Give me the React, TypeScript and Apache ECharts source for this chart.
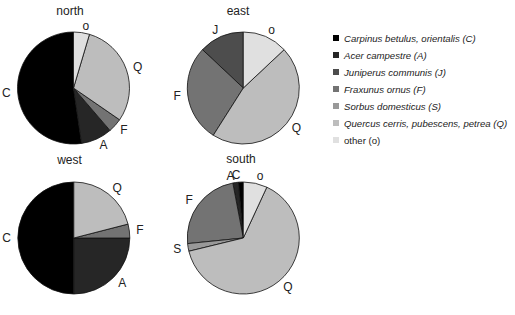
import React, { useEffect, useRef } from "react";
import * as echarts from "echarts";

const speciesNames = [
  "Carpinus betulus, orientalis (C)",
  "Acer campestre (A)",
  "Juniperus communis (J)",
  "Fraxunus ornus (F)",
  "Sorbus domesticus (S)",
  "Quercus cerris, pubescens, petrea (Q)",
  "other (o)",
];
const speciesCodes = ["C", "A", "J", "F", "S", "Q", "o"];
const speciesColors = ["#000000", "#262626", "#4d4d4d", "#737373", "#999999", "#bdbdbd", "#e0e0e0"];

const regionNames = ["north", "east", "west", "south"];
const northValues = [0.523, 0.09, 0, 0.041, 0, 0.3, 0.046];
const eastValues = [0, 0, 0.13, 0.28, 0, 0.46, 0.13];
const westValues = [0.5, 0.25, 0, 0.04, 0, 0.21, 0];
const southValues = [0.014, 0.016, 0, 0.236, 0.022, 0.643, 0.069];
const regionValues = [northValues, eastValues, westValues, southValues];

// layout (pixels)
const pieCenters = [
  [73.5, 88],
  [243.3, 88],
  [73.8, 238],
  [243.3, 238],
];
const titlePos = [
  [70, 5],
  [238, 5],
  [69.5, 154],
  [241, 153],
];
const pieRadius = 56;
const FONT = "Liberation Sans, Arial, sans-serif";

export default function App() {
  const ref = useRef<HTMLDivElement>(null);
  useEffect(() => {
    if (!ref.current) return;
    const chart = echarts.init(ref.current, undefined, { renderer: "svg" });
    const series = regionNames.map((region, ri) => ({
      type: "pie",
      name: region,
      center: pieCenters[ri],
      radius: pieRadius,
      startAngle: 90,
      clockwise: false,
      avoidLabelOverlap: false,
      minShowLabelAngle: 0,
      labelLayout: { hideOverlap: false },
      silent: true,
      itemStyle: { borderColor: "#111", borderWidth: 0.8 },
      label: {
        show: true,
        position: "outside",
        fontSize: 12,
        fontFamily: FONT,
        color: "#222",
        distanceToLabelLine: 0,
        formatter: (p: any) => speciesCodes[speciesNames.indexOf(p.name)],
      },
      labelLine: { show: false, length: 7, length2: 0 },
      emphasis: { disabled: true },
      data: speciesNames
        .map((name, i) => ({
          name,
          value: regionValues[ri][i],
          itemStyle: { color: speciesColors[i] },
        }))
        .filter((d) => d.value > 0),
    }));
    chart.setOption({
      animation: false,
      title: regionNames.map((region, ri) => ({
        text: region,
        left: titlePos[ri][0],
        top: titlePos[ri][1],
        textAlign: "center",
        padding: 0,
        textStyle: { fontSize: 12, fontWeight: "normal", fontFamily: FONT, color: "#222" },
      })),
      legend: {
        orient: "vertical",
        left: 333,
        top: 32,
        icon: "rect",
        itemWidth: 6,
        itemHeight: 6,
        itemGap: 5,
        selectedMode: false,
        padding: 0,
        itemStyle: { borderWidth: 0 },
        textStyle: { fontSize: 9.6, fontFamily: FONT, color: "#222", lineHeight: 12 },
        data: speciesNames.map((name, i) => ({
          name,
          textStyle: { fontStyle: i < 6 ? "italic" : "normal" },
        })),
      },
      series,
    });
    return () => chart.dispose();
  }, []);
  return (
    <div
      ref={ref}
      style={{ position: "fixed", left: 0, top: 0, width: 515, height: 315, background: "#fff" }}
    />
  );
}
